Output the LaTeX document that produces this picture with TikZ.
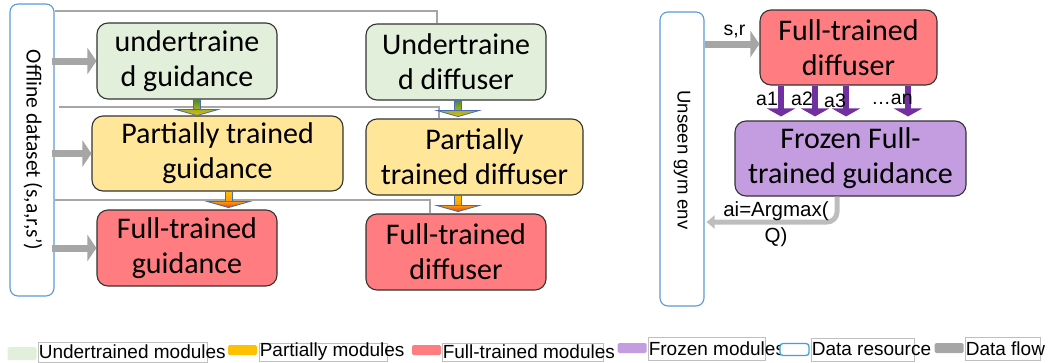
\documentclass[tikz,border=0pt]{standalone}
\usepackage{fontspec}
\setmainfont{Carlito}
\newfontfamily\arial{Liberation Sans}
\usetikzlibrary{arrows.meta}

\definecolor{undergreen}{HTML}{E2EFDA}
\definecolor{partyellow}{HTML}{FFE699}
\definecolor{fullred}{HTML}{FF7C80}
\definecolor{frozenpurple}{HTML}{C39DDF}
\definecolor{resblue}{HTML}{5B9BD5}
\definecolor{legblue}{HTML}{3FA3DA}
\definecolor{flowgray}{HTML}{A6A6A6}
\definecolor{outgray}{HTML}{BDBDBD}
\definecolor{actpurple}{HTML}{7030A0}
\definecolor{arrowedge}{HTML}{4A6CB0}
\definecolor{legyellow}{HTML}{FFC000}
\definecolor{gdark}{HTML}{4E8A2E}
\definecolor{gmid}{HTML}{A8B020}
\definecolor{gyel}{HTML}{E0B800}
\definecolor{oorange}{HTML}{FF9A00}
\definecolor{ored}{HTML}{E8401E}

\tikzset{
  module/.style={draw=black!80, line width=1.1pt, rounded corners=11pt,
    align=center, font=\fontsize{30}{35}\selectfont, inner sep=0pt},
  resource/.style={draw=resblue, line width=1.1pt, rounded corners=8pt, fill=white},
  flow/.style={draw=flowgray, line width=7pt, -{Triangle[length=9pt,width=26pt]}},
  outflow/.style={draw=outgray, line width=5pt, -{Triangle[length=8pt,width=13pt]}},
  link/.style={draw=flowgray, line width=1.3pt},
  act/.style={draw=actpurple, line width=6pt, -{Triangle[length=8pt,width=28pt]}},
  lbl/.style={font=\arial\fontsize{19.5}{23}\selectfont, inner sep=0pt},
  vlabel/.style={inner sep=0pt, rotate=-90},
  legbox/.style={draw=black!25, line width=0.8pt, inner sep=0pt},
  legfont/.style={font=\arial\fontsize{19}{22}\selectfont, inner sep=0pt, anchor=west},
  legswatch/.style={minimum width=29pt, inner sep=0pt, rounded corners=1.5pt},
}

% block arrow with a shaded shaft and a wide flat head
\newcommand\trainstep[4]{%
  \begin{scope}[shift={(#1)}]
    \shade[top color=#2, bottom color=#3, draw=arrowedge, line width=0.5pt]
      (-3.5,0) rectangle (3.5,10);
    \shade[top color=#3, bottom color=#4, draw=arrowedge, line width=0.8pt]
      (-21,10) -- (21,10) -- (0,16) -- cycle;
  \end{scope}}

\begin{document}
\begin{tikzpicture}[x=1pt, y=-1pt]
\useasboundingbox (0,0) rectangle (1054,362);

% data resources
\node[resource, minimum width=44pt, minimum height=292pt] (ds) at (32,150) {};
\node[vlabel, font=\fontsize{21.5}{25}\selectfont] (dstext) at (33,150) {Offline dataset (s,a,r,s’)};
\node[resource, minimum width=44pt, minimum height=294pt] (env) at (682,159) {};
\node[vlabel, font=\arial\fontsize{18.5}{22}\selectfont] (envtext) at (682,160) {Unseen gym env};

% modules, left part
\node[module, fill=undergreen, minimum width=180pt, minimum height=76pt] (ug) at (187,61) {undertraine\\d guidance};
\node[module, fill=partyellow, minimum width=251pt, minimum height=75pt] (pg) at (217.5,153.5) {Partially trained\\guidance};
\node[module, fill=fullred, minimum width=180pt, minimum height=76pt] (fg) at (187,248) {Full-trained\\guidance};
\node[module, fill=undergreen, minimum width=180pt, minimum height=76pt] (ud) at (456,62) {Undertraine\\d diffuser};
\node[module, fill=partyellow, minimum width=217pt, minimum height=76pt] (pd) at (474.5,157) {Partially\\trained diffuser};
\node[module, fill=fullred, minimum width=180pt, minimum height=76pt] (fd) at (456,252) {Full-trained\\diffuser};

% modules, right part
\node[module, fill=fullred, minimum width=177pt, minimum height=75pt] (rfd) at (848.5,47.5) {Full-trained\\diffuser};
\node[module, fill=frozenpurple, minimum width=231pt, minimum height=75pt] (frz) at (850.5,158.5) {Frozen Full-\\trained guidance};

% dataset feeding the diffuser column
\draw[link] (ds.east |- 0,11) -| ([xshift=-19pt]ud.north);
\draw[link] ([xshift=4pt]ds.east |- 0,107) -| ([xshift=-35.5pt]pd.north);
\draw[link] (ds.east |- 0,200) -| ([xshift=-26pt]fd.north);

% dataset feeding the guidance column
\draw[flow] ([xshift=-3pt]ds.east |- ug.west) -- (ug.west);
\draw[flow] ([xshift=-3pt]ds.east |- pg.west) -- (pg.west);
\draw[flow] ([xshift=-3pt]ds.east |- fg.west) -- (fg.west);

% training progress
\trainstep{[xshift=10pt]ug.south}{gdark}{gmid}{gyel}
\trainstep{[xshift=11pt]pg.south}{legyellow}{oorange}{ored}
\trainstep{[xshift=2pt]ud.south}{gdark}{gmid}{gyel}
\trainstep{[xshift=-16.5pt]pd.south}{legyellow}{oorange}{ored}

% inference loop
\draw[flow] (env.east |- 0,44) -- (rfd.west |- 0,44);
\node[lbl] (sr) at (734.5,31) {s,r};

\coordinate (actend) at ([yshift=4pt]frz.north);
\foreach \dx in {-67.5,-33.5,-2.5,59.5}
  \draw[act] ([xshift=\dx pt]rfd.south) -- ([xshift=\dx pt]rfd.south |- actend);
\node[lbl] (a1) at (767,99) {a1};
\node[lbl] (a2) at (802,99) {a2};
\node[lbl] (a3) at (835,101) {a3};
\node[lbl] (an) at (892,99) {…an};

\draw[outflow, rounded corners=10pt] ([xshift=-13.5pt]frz.south) |- ([xshift=2pt]env.east |- 0,222);
\node[lbl, align=center, font=\arial\fontsize{20.5}{26}\selectfont] (argmax) at (776,224) {ai=Argmax(\\Q)};

% legend
\node[legswatch, fill=undergreen, minimum height=13pt] (sw1) at (22,353.5) {};
\node[legbox, minimum width=169pt, minimum height=20pt] (lb1) at (122.5,352) {};
\node[legfont] (lt1) at ([xshift=1pt]lb1.west) {Undertrained modules};

\node[legswatch, fill=legyellow, minimum height=10pt] (sw2) at (242.5,350) {};
\node[legbox, minimum width=128pt, minimum height=18pt] (lb2) at (323,352) {};
\node[legfont] (lt2) at ([xshift=1pt]lb2.west) {Partially modules};

\node[legswatch, fill=fullred, minimum height=10pt] (sw3) at (426.5,350) {};
\node[legbox, minimum width=161pt, minimum height=18pt] (lb3) at (522.5,352) {};
\node[legfont] (lt3) at ([xshift=1pt]lb3.west) {Full-trained modules};

\node[legswatch, fill=frozenpurple, minimum height=10pt] (sw4) at (632,348) {};
\node[legbox, minimum width=117pt, minimum height=23pt] (lb4) at (706.5,348.5) {};
\node[legfont] (lt4) at ([xshift=1pt]lb4.west) {Frozen modules};

\node[legswatch, draw=legblue, line width=1.3pt, fill=white, minimum height=12pt, rounded corners=3pt] (sw5) at (794.5,349.5) {};
\node[legbox, minimum width=103pt, minimum height=23pt] (lb5) at (862.5,349.5) {};
\node[legfont] (lt5) at ([xshift=1pt]lb5.west) {Data resource};

\node[legswatch, fill=flowgray, minimum height=10pt] (sw6) at (949,348) {};
\node[legbox, minimum width=75pt, minimum height=23pt] (lb6) at (1002.5,348.5) {};
\node[legfont] (lt6) at ([xshift=1pt]lb6.west) {Data flow};
\end{tikzpicture}
\end{document}
